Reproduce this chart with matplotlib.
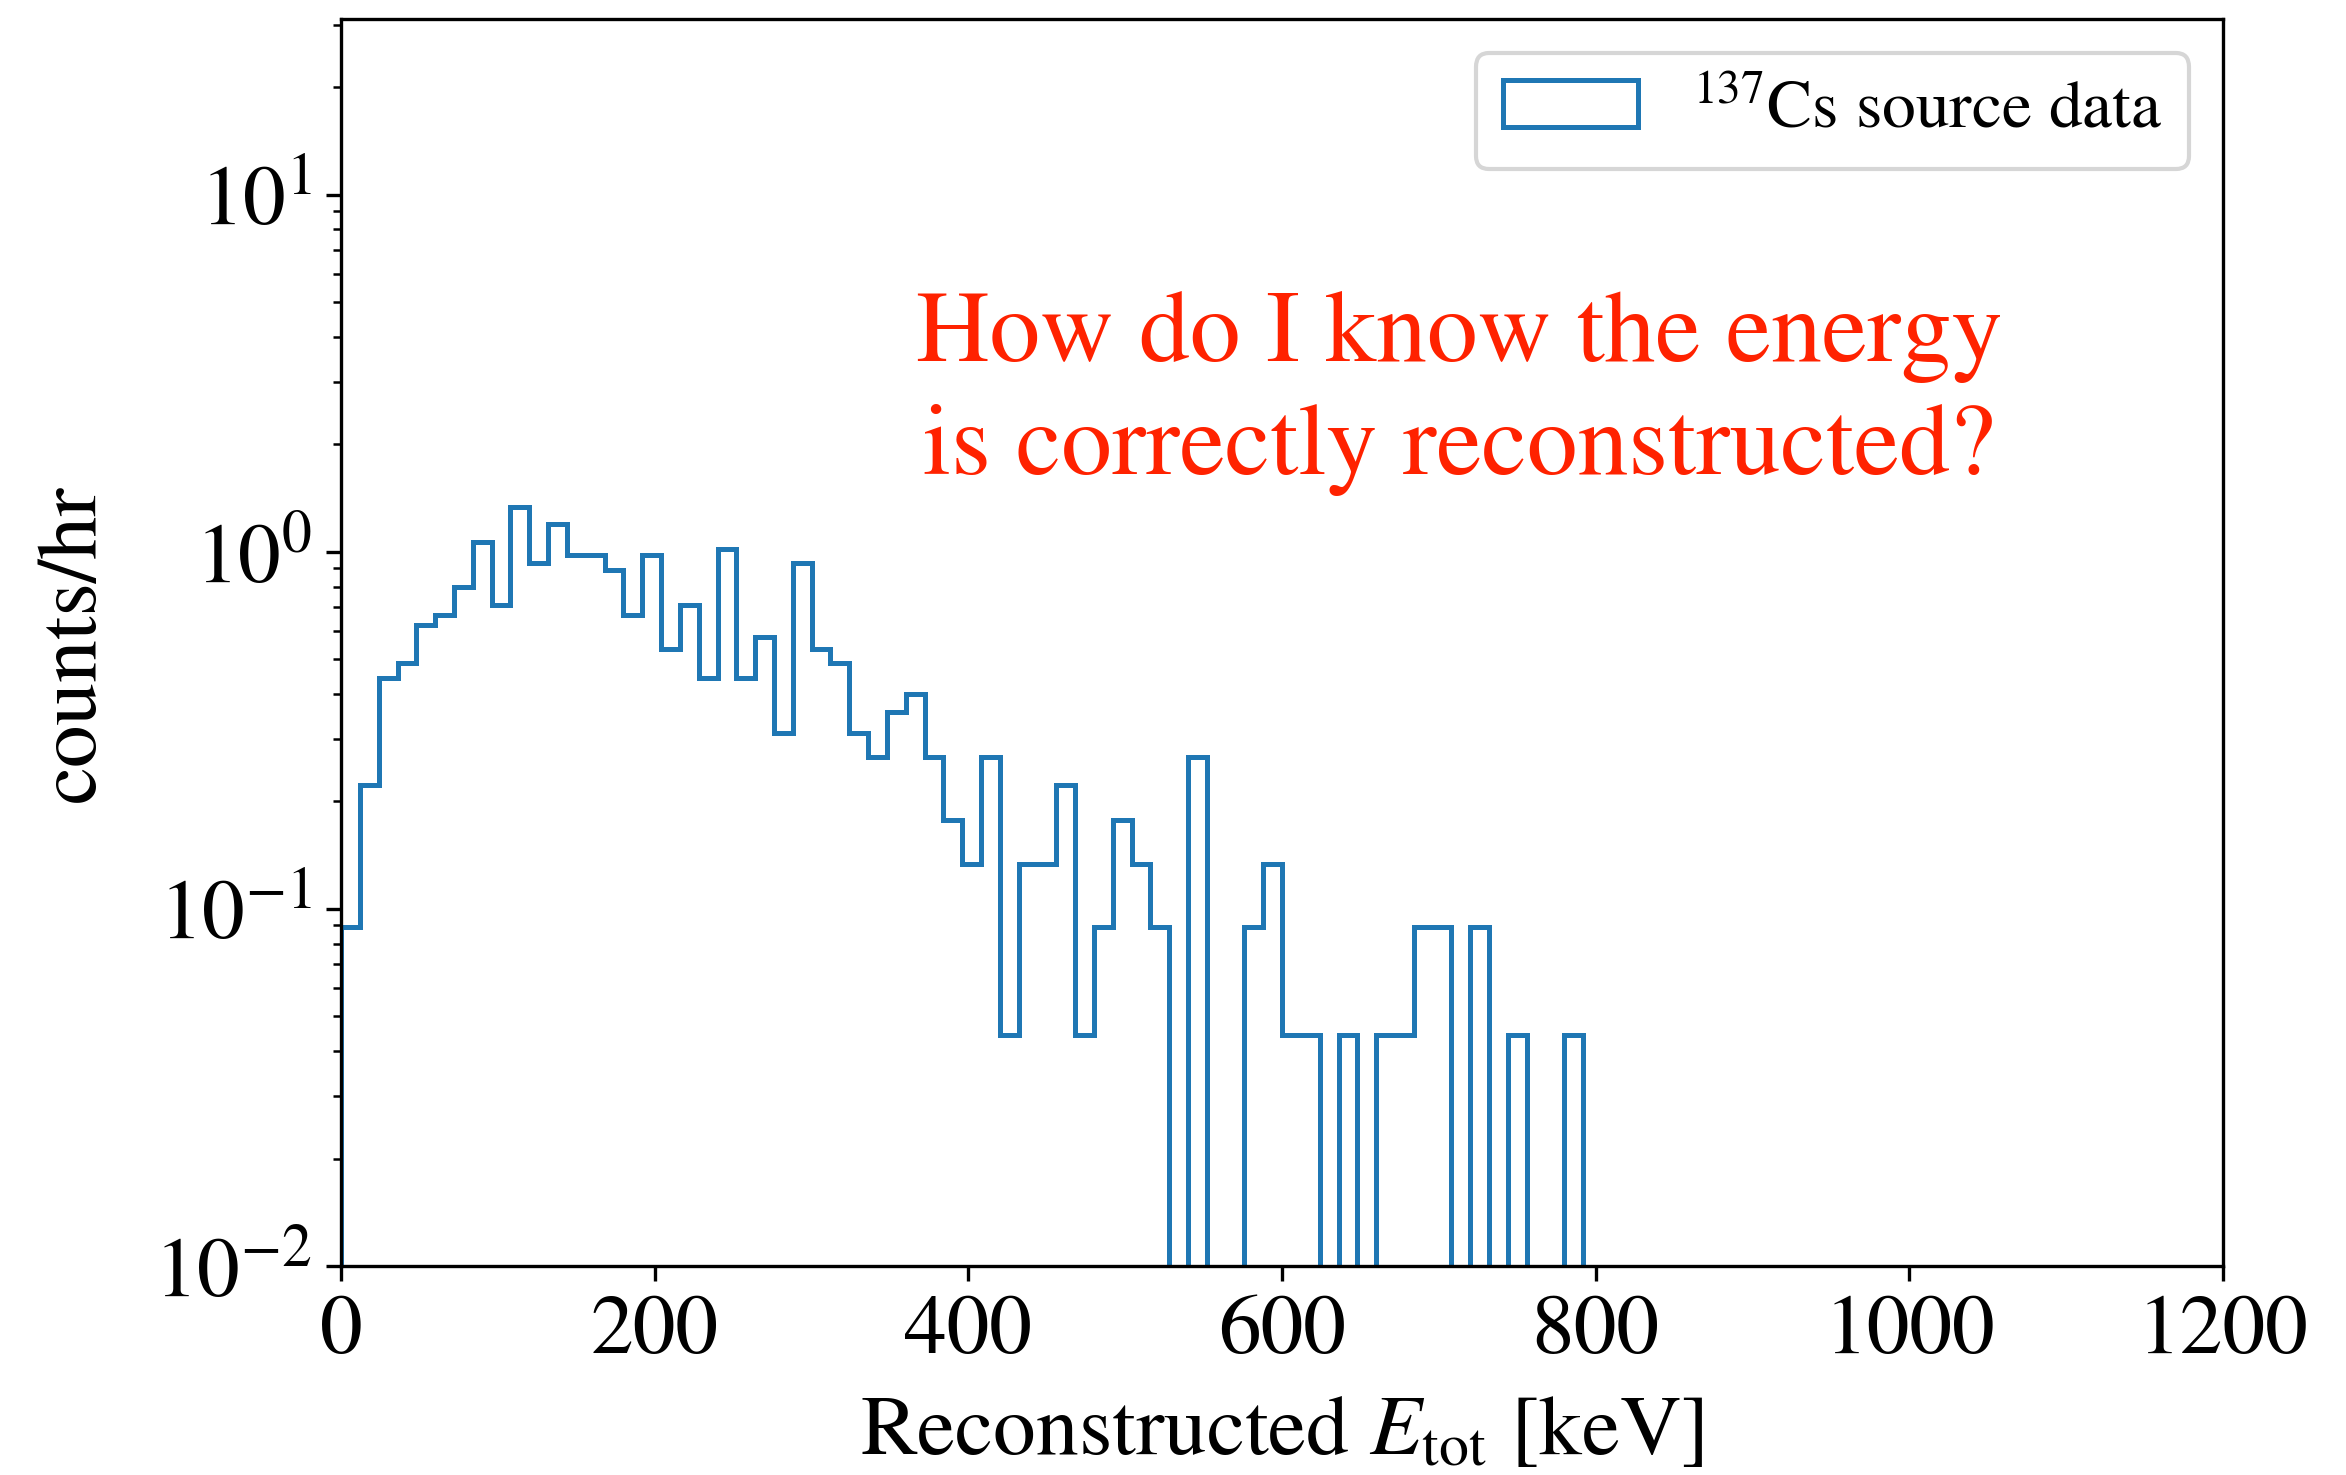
import numpy as np
import matplotlib
matplotlib.use('Agg')
import matplotlib.pyplot as plt

plt.rcParams['font.family'] = 'STIXGeneral'
plt.rcParams['mathtext.fontset'] = 'stix'

# 12 keV bins from 0 to 1200 keV, counts
bin_edges = np.linspace(0, 1200, 101)
counts = [2, 5, 10, 11, 14, 15, 18, 24, 16, 30,
          21, 27, 22, 22, 20, 15, 22, 12, 16, 10,
          23, 10, 13, 7, 21, 12, 11, 7, 6, 8,
          9, 6, 4, 3, 6, 1, 3, 3, 5, 1,
          2, 4, 3, 2, 0, 6, 0, 0, 2, 3,
          1, 1, 0, 1, 0, 1, 1, 2, 2, 0,
          2, 0, 1, 0, 0, 1]
counts = counts + [0] * (100 - len(counts))
live_time_hr = 22.5

rates = np.array(counts) / live_time_hr
centers = 0.5 * (bin_edges[1:] + bin_edges[:-1])

fig = plt.figure(figsize=(7.82, 4.9167), dpi=300)
ax = fig.add_axes([0.1454, 0.1417, 0.8022, 0.8451])

ax.hist(centers, bins=bin_edges, weights=rates, histtype='step',
        color='#1f77b4', lw=1.2, label=r'$^{137}$Cs source data')
ax.set_yscale('log')
ax.set_xlim(0, 1200)
ax.set_ylim(0.01, 31)
ax.set_xticks([0, 200, 400, 600, 800, 1000, 1200])
ax.tick_params(labelsize=20.5)

ax.set_xlabel(r'Reconstructed $E_{\rm tot}$ [keV]', fontsize=20.5, labelpad=6)
ax.set_ylabel('counts/hr', fontsize=20.5, labelpad=10)

ax.text(0.594, 0.70, 'How do I know the energy\nis correctly reconstructed?',
        transform=ax.transAxes, ha='center', va='center', color='#ff2200',
        fontsize=24.4, linespacing=1.3)

ax.legend(loc='upper right', fontsize=16.2)

fig.savefig('out.png', dpi=300)
